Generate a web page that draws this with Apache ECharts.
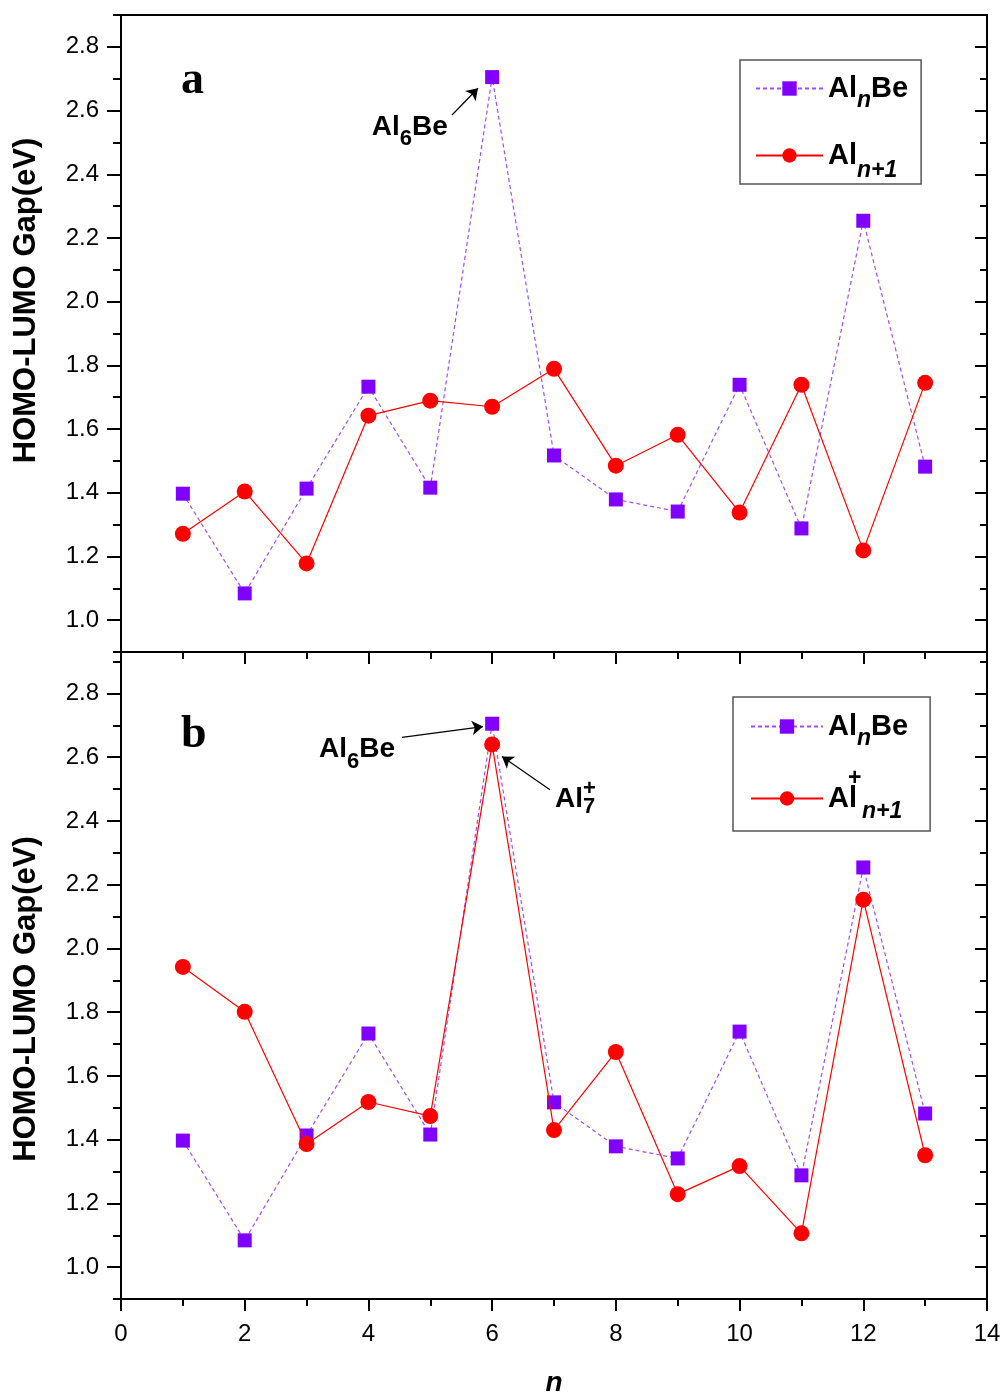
<!DOCTYPE html>
<html><head><meta charset="utf-8">
<script src="https://cdn.jsdelivr.net/npm/echarts@6/dist/echarts.min.js"></script>
<style>html,body{margin:0;padding:0;background:#fff}#c{width:1004px;height:1396px}</style>
</head><body><div id="c"></div>
<script>
// ---- data ----
const nValues = [1, 2, 3, 4, 5, 6, 7, 8, 9, 10, 11, 12, 13];
const alnBeGap = [1.397, 1.084, 1.413, 1.733, 1.416, 2.705, 1.517, 1.379, 1.341, 1.739, 1.288, 2.254, 1.482];
const alNeutralGap = [1.271, 1.404, 1.178, 1.642, 1.689, 1.670, 1.789, 1.485, 1.582, 1.338, 1.739, 1.219, 1.745];
const alCationGap = [1.942, 1.801, 1.386, 1.518, 1.474, 2.640, 1.430, 1.675, 1.229, 1.317, 1.106, 2.153, 1.351];
const xTicks = [0, 2, 4, 6, 8, 10, 12, 14];
const yMajorTicks = [1.0, 1.2, 1.4, 1.6, 1.8, 2.0, 2.2, 2.4, 2.6, 2.8];
const yMinorTicks = [0.9, 1.1, 1.3, 1.5, 1.7, 1.9, 2.1, 2.3, 2.5, 2.7, 2.9];
// annotation anchors (data coordinates)
const labelAl6BeA = [4.67, 2.548];
const arrowAl6BeA = [[5.351, 2.586], [5.771, 2.670]];
const labelAl6BeB = [3.815, 2.624];
const arrowAl6BeB = [[4.543, 2.662], [5.852, 2.696]];
const labelAl7B = [7.34, 2.467];
const arrowAl7B = [[6.935, 2.498], [6.159, 2.602]];

const FONT = '"Liberation Sans", Arial, Helvetica, sans-serif';
const PURPLE = '#8000ff', PURPLE_LINE = '#a04dff', RED = '#ff0000';

const pairs = arr => nValues.map((n, i) => [n, arr[i]]);

function yAx(grid, max, pos, major, extra) {
  return Object.assign({
    type: 'value', gridIndex: grid, min: 0.9, max: max, position: pos,
    axisLine: { show: true, onZero: false, lineStyle: { color: '#000', width: 2 } },
    axisTick: {
      show: true, inside: pos === 'right',
      length: major ? (pos === 'right' ? 12 : 14) : (pos === 'right' ? 7 : 8),
      lineStyle: { color: '#000', width: 2 },
      customValues: major ? yMajorTicks : yMinorTicks
    },
    axisLabel: {
      show: major && pos === 'left', customValues: yMajorTicks,
      formatter: v => v.toFixed(1), fontSize: 24, color: '#000', margin: 22, fontFamily: FONT
    },
    splitLine: { show: false }
  }, extra || {});
}

function xAx(grid, showLabels, extra) {
  return Object.assign({
    type: 'value', gridIndex: grid, min: 0, max: 14, interval: 2, position: 'bottom',
    axisLine: { show: true, onZero: false, lineStyle: { color: '#000', width: 2 } },
    axisTick: { show: true, inside: false, length: 12, lineStyle: { color: '#000', width: 2 }, customValues: xTicks },
    minorTick: { show: true, splitNumber: 2, length: 7, lineStyle: { color: '#000', width: 2 } },
    axisLabel: { show: showLabels, customValues: xTicks, fontSize: 24, color: '#000', margin: 23, fontFamily: FONT },
    splitLine: { show: false }, minorSplitLine: { show: false }
  }, extra || {});
}

const yTitle = {
  name: 'HOMO-LUMO Gap(eV)', nameLocation: 'middle', nameGap: 79
};

const richAnn = {
  a: { fontSize: 28, fontWeight: 'bold', fontFamily: FONT, color: '#000', align: 'left' },
  s: { fontSize: 22, fontWeight: 'bold', fontFamily: FONT, color: '#000', align: 'left', padding: [12, 0, -12, 0] },
  s7: { fontSize: 22, fontWeight: 'bold', fontFamily: FONT, color: '#000', align: 'left', padding: [7, 0, -7, 0] },
  p: { fontSize: 22, fontWeight: 'bold', fontFamily: FONT, color: '#000', align: 'left', width: 0, padding: [-11, 0, 11, 0] }
};

const richLegend = {
  a: { fontSize: 29, fontWeight: 'bold', fontFamily: FONT, color: '#000', align: 'left', lineHeight: 30 },
  s: { fontSize: 23, fontWeight: 'bold', fontStyle: 'italic', fontFamily: FONT, color: '#000', align: 'left', lineHeight: 30, padding: [12, 0, -12, 0] },
  s2: { fontSize: 23, fontWeight: 'bold', fontStyle: 'italic', fontFamily: FONT, color: '#000', align: 'left', lineHeight: 30, padding: [15, 0, -15, 0] },
  s3: { fontSize: 23, fontWeight: 'bold', fontStyle: 'italic', fontFamily: FONT, color: '#000', align: 'left', lineHeight: 30, padding: [13, 0, -13, 14] },
  p: { fontSize: 23, fontWeight: 'bold', fontFamily: FONT, color: '#000', align: 'left', lineHeight: 30, width: 0, padding: [-20, 0, 20, -9] }
};
const legendText = {
  'AlnBe': '{a|Al}{s|n}{a|Be}',
  'Aln+1': '{a|Al}{s2|n+1}',
  'Aln+1+': '{a|Al}{p|+}{s3|n+1}'
};

function arrowLine(pts) {
  return [{ coord: pts[0], symbol: 'none' }, { coord: pts[1], symbol: 'arrow' }];
}
const markLineBase = {
  silent: true, animation: false, symbolSize: 11,
  lineStyle: { color: '#000', width: 1.2, type: 'solid' },
  label: { show: false }, emphasis: { disabled: true }
};
const markPointBase = {
  silent: true, animation: false, symbol: 'circle', symbolSize: 0,
  label: { show: true, position: 'inside', rich: richAnn, color: '#000' },
  emphasis: { disabled: true }
};

const option = {
  animation: false,
  backgroundColor: '#fff',
  title: [
    { text: 'a', left: 181, top: 58, padding: 0, textStyle: { fontFamily: '"Liberation Serif", "Times New Roman", serif', fontWeight: 'bold', fontSize: 46, color: '#000' } },
    { text: 'b', left: 181, top: 712, padding: 0, textStyle: { fontFamily: '"Liberation Serif", "Times New Roman", serif', fontWeight: 'bold', fontSize: 46, color: '#000' } }
  ],
  grid: [
    { left: 121, right: 17, top: 15, height: 637, show: true, borderColor: '#000', borderWidth: 2, backgroundColor: 'transparent', containLabel: false, outerBoundsMode: 'none' },
    { left: 121, right: 17, top: 652, height: 647, show: true, borderColor: '#000', borderWidth: 2, backgroundColor: 'transparent', containLabel: false, outerBoundsMode: 'none' }
  ],
  legend: [
    {
      data: ['AlnBe', 'Aln+1'], orient: 'vertical', left: 740, top: 60,
      padding: [14, 13, 2, 15], itemGap: 29, itemWidth: 67, itemHeight: 18,
      borderColor: '#555', borderWidth: 1.5, borderRadius: 0,
      formatter: n => legendText[n], textStyle: { rich: richLegend, fontFamily: FONT }
    },
    {
      data: ['AlnBe', 'Aln+1+'], orient: 'vertical', left: 733, top: 697,
      padding: [15, 22, 8, 17], itemGap: 17, itemWidth: 72, itemHeight: 18,
      borderColor: '#555', borderWidth: 1.5, borderRadius: 0,
      formatter: n => legendText[n], textStyle: { rich: richLegend, fontFamily: FONT }
    }
  ],
  xAxis: [
    xAx(0, false),
    xAx(1, true, {
      name: 'n', nameLocation: 'middle', nameGap: 70,
      nameTextStyle: { fontSize: 28, fontWeight: 'bold', fontStyle: 'italic', color: '#000', fontFamily: FONT }
    })
  ],
  yAxis: [
    yAx(0, 2.9, 'left', true, Object.assign({}, yTitle, {
      nameTextStyle: { fontSize: 31, fontWeight: 'bold', color: '#000', fontFamily: FONT, padding: [0, 0, 0, 66] }
    })),
    yAx(0, 2.9, 'left', false),
    yAx(0, 2.9, 'right', true),
    yAx(0, 2.9, 'right', false),
    yAx(1, 2.93, 'left', true, Object.assign({}, yTitle, {
      nameTextStyle: { fontSize: 31, fontWeight: 'bold', color: '#000', fontFamily: FONT, padding: [0, 47, 0, 0] }
    })),
    yAx(1, 2.93, 'left', false),
    yAx(1, 2.93, 'right', true),
    yAx(1, 2.93, 'right', false)
  ],
  series: [
    {
      name: 'AlnBe', type: 'line', xAxisIndex: 0, yAxisIndex: 0, data: pairs(alnBeGap),
      symbol: 'rect', symbolSize: 14, itemStyle: { color: PURPLE },
      lineStyle: { color: PURPLE_LINE, width: 1.2, type: [4, 3] }, z: 3,
      markLine: Object.assign({}, markLineBase, { data: [arrowLine(arrowAl6BeA)] }),
      markPoint: Object.assign({}, markPointBase, { data: [{ coord: labelAl6BeA, label: { formatter: '{a|Al}{s|6}{a|Be}' } }] })
    },
    {
      name: 'Aln+1', type: 'line', xAxisIndex: 0, yAxisIndex: 0, data: pairs(alNeutralGap),
      symbol: 'circle', symbolSize: 16, itemStyle: { color: RED },
      lineStyle: { color: RED, width: 1.2 }, z: 4
    },
    {
      name: 'AlnBe', type: 'line', xAxisIndex: 1, yAxisIndex: 4, data: pairs(alnBeGap),
      symbol: 'rect', symbolSize: 14, itemStyle: { color: PURPLE },
      lineStyle: { color: PURPLE_LINE, width: 1.2, type: [4, 3] }, z: 3,
      markLine: Object.assign({}, markLineBase, { data: [arrowLine(arrowAl6BeB), arrowLine(arrowAl7B)] }),
      markPoint: Object.assign({}, markPointBase, {
        data: [
          { coord: labelAl6BeB, label: { formatter: '{a|Al}{s|6}{a|Be}' } },
          { coord: labelAl7B, label: { formatter: '{a|Al}{p|+}{s7|7}' } }
        ]
      })
    },
    {
      name: 'Aln+1+', type: 'line', xAxisIndex: 1, yAxisIndex: 4, data: pairs(alCationGap),
      symbol: 'circle', symbolSize: 16, itemStyle: { color: RED },
      lineStyle: { color: RED, width: 1.2 }, z: 4
    }
  ]
};

const chart = echarts.init(document.getElementById('c'), null, { renderer: 'canvas' });
chart.setOption(option);
</script>
</body></html>
